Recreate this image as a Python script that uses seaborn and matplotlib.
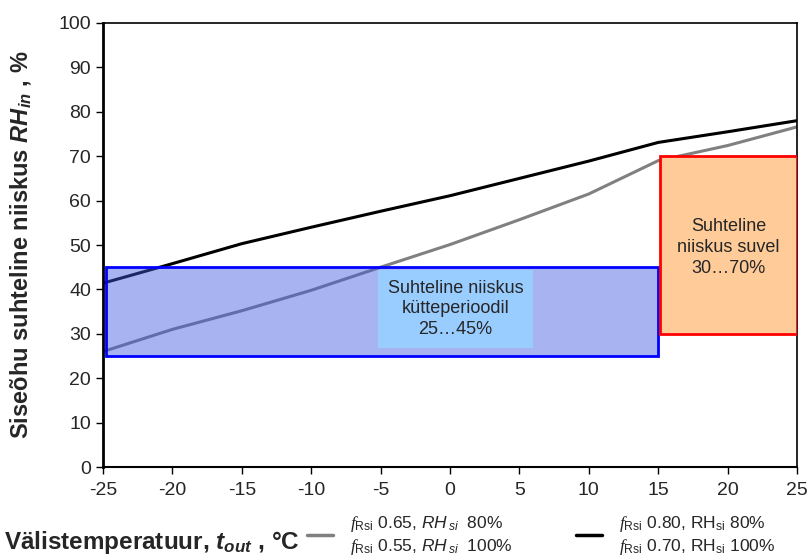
import matplotlib
matplotlib.use("Agg")
import matplotlib.pyplot as plt
import numpy as np
import pandas as pd
import seaborn as sns
from matplotlib.patches import Rectangle
from matplotlib.lines import Line2D

# andmed (loetud pildilt)
t_out = [-25, -20, -15, -10, -5, 0, 5, 10, 15, 20, 25]
rh_hall = [26.0, 31.0, 35.2, 39.8, 45.0, 50.1, 55.7, 61.5, 69.0, 72.4, 76.6]
rh_must = [41.4, 45.8, 50.3, 54.0, 57.6, 61.1, 65.0, 68.9, 73.1, 75.5, 78.0]

# tsoonid: (x0, x1, y0, y1)
talv_tsoon = (-24.8, 15.0, 25, 45)
suvi_tsoon = (15.1, 25.0, 30, 70)
talv_tekst = "Suhteline niiskus\nkütteperioodil\n25…45%"
suvi_tekst = "Suhteline\nniiskus suvel\n30…70%"

x_ticks = [-25, -20, -15, -10, -5, 0, 5, 10, 15, 20, 25]
y_ticks = [0, 10, 20, 30, 40, 50, 60, 70, 80, 90, 100]

leg_hall = "$\\mathsf{f}_{\\mathrm{Rsi}}$ 0.65, $RH_{\\,si}$  80%\n$\\mathsf{f}_{\\mathrm{Rsi}}$ 0.55, $RH_{\\,si}$  100%"
leg_must = "$\\mathsf{f}_{\\mathrm{Rsi}}$ 0.80, RH$_{\\mathrm{si}}$ 80%\n$\\mathsf{f}_{\\mathrm{Rsi}}$ 0.70, RH$_{\\mathrm{si}}$ 100%"

sns.set_style("white")
plt.rcParams['font.family'] = ['Liberation Sans', 'DejaVu Sans']
plt.rcParams['mathtext.fontset'] = 'custom'
plt.rcParams['mathtext.rm'] = 'Liberation Sans'
plt.rcParams['mathtext.it'] = 'Liberation Sans:italic'
plt.rcParams['mathtext.bf'] = 'Liberation Sans:bold'
plt.rcParams['mathtext.bfit'] = 'Liberation Sans:bold:italic'
plt.rcParams['mathtext.sf'] = 'Liberation Serif:italic'

df = pd.DataFrame({"t": t_out, "hall": rh_hall, "must": rh_must})

fig = plt.figure(figsize=(8.09, 5.6), dpi=100)
ax = fig.add_axes([0.1273, 0.166, 0.858, 0.793])

sns.lineplot(data=df, x="t", y="hall", color="#808080", linewidth=2.2, ax=ax, zorder=2)
sns.lineplot(data=df, x="t", y="must", color="black", linewidth=2.2, ax=ax, zorder=2)

# kütteperioodi tsoon (poolläbipaistev, joonte peal)
x0, x1, y0, y1 = talv_tsoon
ax.add_patch(Rectangle((x0, y0), x1 - x0, y1 - y0, facecolor=(60/255, 90/255, 225/255, 0.45),
                       edgecolor="#0000ff", linewidth=2, zorder=3))
ax.text(0.4, 35.6, talv_tekst, ha="center", va="center",
        fontsize=13, linespacing=1.25, zorder=5,
        bbox=dict(boxstyle="square,pad=0.55", facecolor="#99ccff", edgecolor="none"))

# suve tsoon
x0, x1, y0, y1 = suvi_tsoon
ax.add_patch(Rectangle((x0, y0), x1 - x0, y1 - y0, facecolor="#ffcc99",
                       edgecolor="#ff0000", linewidth=2, zorder=4))
ax.text((x0 + x1) / 2, 49.5, suvi_tekst, ha="center", va="center",
        fontsize=13, linespacing=1.3, zorder=5)

ax.set_xlim(-25, 25)
ax.set_ylim(0, 100)
ax.set_xticks(x_ticks)
ax.set_yticks(y_ticks)
ax.set_xticklabels([str(v) for v in x_ticks])
ax.tick_params(axis="both", direction="out", length=5, width=1, labelsize=14, color="black",
               bottom=True, left=True)
ax.tick_params(axis="x", pad=6)
for s in ax.spines.values():
    s.set_color("black")
    s.set_linewidth(1.2)
ax.spines["left"].set_linewidth(2)
ax.spines["bottom"].set_linewidth(1.5)

ax.set_ylabel("Siseõhu suhteline niiskus $\\mathbfit{RH}_{\\mathbfit{in}}$ , %",
              fontsize=17, fontweight="bold", va="center")
ax.yaxis.set_label_coords(-0.118, 0.5)
ax.set_xlabel("Välistemperatuur, $\\mathbfit{t}_{\\mathbfit{out}}$ , °C",
              fontsize=17.5, fontweight="bold", ha="left", va="center")
ax.xaxis.set_label_coords(-0.142, -0.17)

handles = [Line2D([], [], color="#808080", linewidth=2.5),
           Line2D([], [], color="black", linewidth=2.5)]
fig.legend(handles, [leg_hall, leg_must], ncol=2, loc="lower left",
           bbox_to_anchor=(0.36, -0.022), frameon=False, fontsize=12.5,
           handlelength=1.5, columnspacing=3.6, handletextpad=1.0, labelspacing=0.2)

fig.savefig("out.png", dpi=100)
